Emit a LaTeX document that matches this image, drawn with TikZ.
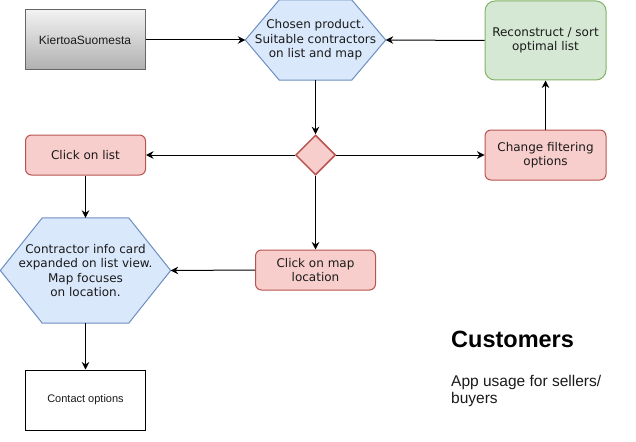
\documentclass[tikz,border=0pt]{standalone}
\usepackage{fontspec}
\newfontfamily\dejavu{DejaVu Sans}
\newfontfamily\arialf{Liberation Sans}
\usetikzlibrary{arrows.meta,shapes.geometric,backgrounds}
\definecolor{bluefill}{HTML}{DAE8FC}
\definecolor{bluestroke}{HTML}{6C8EBF}
\definecolor{redfill}{HTML}{F8CECC}
\definecolor{redstroke}{HTML}{B85450}
\definecolor{greenfill}{HTML}{D5E8D4}
\definecolor{greenstroke}{HTML}{82B366}
\definecolor{graytop}{HTML}{F2F2F2}
\definecolor{graybot}{HTML}{B0B0B0}
\definecolor{graystroke}{HTML}{666666}
\definecolor{txt}{HTML}{1A1A1A}
\tikzset{
  dvfont/.style={font=\dejavu\fontsize{12}{14.4}\selectfont, text=txt, align=center},
  redbox/.style={dvfont, draw=redstroke, fill=redfill, line width=1pt, rounded corners=6pt, minimum width=120pt, minimum height=40pt, inner sep=0pt},
  greenbox/.style={dvfont, draw=greenstroke, fill=greenfill, line width=1pt, rounded corners=10pt, minimum width=121pt, minimum height=79pt, inner sep=0pt},
  hexlbl/.style={dvfont, inner sep=0pt},
  hexshape/.style={draw=bluestroke, fill=bluefill, line width=1pt},
  arr/.style={draw=black, line width=1pt, -{Stealth[length=7.5pt,width=7.5pt,inset=2.5pt]}},
}
\begin{document}
\begin{tikzpicture}[x=1pt,y=-1pt]
\useasboundingbox (0,0) rectangle (636,441);

% nodes
\node[draw=graystroke, line width=1pt, top color=graytop, bottom color=graybot,
      minimum width=120pt, minimum height=60pt, inner sep=0pt,
      font=\arialf\fontsize{12}{14}\selectfont, text=txt] (kier) at (85,40) {KiertoaSuomesta};

\node[hexlbl, minimum width=140pt, minimum height=80pt] (hex1) at (315.5,40)
  {Chosen product.\\Suitable contractors\\on list and map};
\begin{scope}[on background layer]
\draw[hexshape] (hex1.west) -- ([xshift=34pt]hex1.north west) -- ([xshift=-34pt]hex1.north east)
  -- (hex1.east) -- ([xshift=-34pt]hex1.south east) -- ([xshift=34pt]hex1.south west) -- cycle;
\end{scope}

\node[greenbox] (recon) at (545.5,40.5) {Reconstruct / sort\\optimal list};
\node[redbox, minimum width=121pt, minimum height=50pt] (change) at (545.5,155) {Change filtering\\options};

\node[diamond, draw=redstroke, fill=redfill, line width=1.5pt, minimum width=40pt, minimum height=40pt, inner sep=0pt] (dia) at (315.5,155) {};

\node[redbox] (clist) at (85.5,155) {Click on list};
\node[redbox] (cmap) at (315.5,270) {Click on map\\location};

\node[hexlbl, minimum width=170pt, minimum height=105pt] (hex2) at (85.5,270.5)
  {Contractor info card\\expanded on list view.\\Map focuses\\on location.};
\begin{scope}[on background layer]
\draw[hexshape] (hex2.west) -- ([xshift=42pt]hex2.north west) -- ([xshift=-42pt]hex2.north east)
  -- (hex2.east) -- ([xshift=-42pt]hex2.south east) -- ([xshift=42pt]hex2.south west) -- cycle;
\end{scope}

\node[draw=black, line width=1pt, fill=white, minimum width=120pt, minimum height=60pt, inner sep=0pt,
      font=\arialf\fontsize{11}{13}\selectfont, text=txt] (contact) at (85.5,400) {Contact options};

\node[anchor=base west, inner sep=0pt, font=\arialf\bfseries\fontsize{23.5}{27}\selectfont] (cust) at (451,347) {Customers};
\node[anchor=north west, inner sep=0pt, align=left, font=\arialf\fontsize{15.5}{17.5}\selectfont, text=txt] (usage) at (451,375) {App usage for sellers/\\buyers};

% connectors
\draw[arr] (kier.east) -- (hex1.west);
\draw[arr] (recon.west) -- (hex1.east);
\draw[arr] (hex1.south) -- (dia.north);
\draw[arr] (dia.west) -- (clist.east);
\draw[arr] (dia.east) -- (change.west);
\draw[arr] (dia.south) -- (cmap.north);
\draw[arr] (change.north) -- (recon.south);
\draw[arr] (clist.south) -- (hex2.north);
\draw[arr] (cmap.west) -- (hex2.east);
\draw[arr] (hex2.south) -- (contact.north);
\end{tikzpicture}
\end{document}
